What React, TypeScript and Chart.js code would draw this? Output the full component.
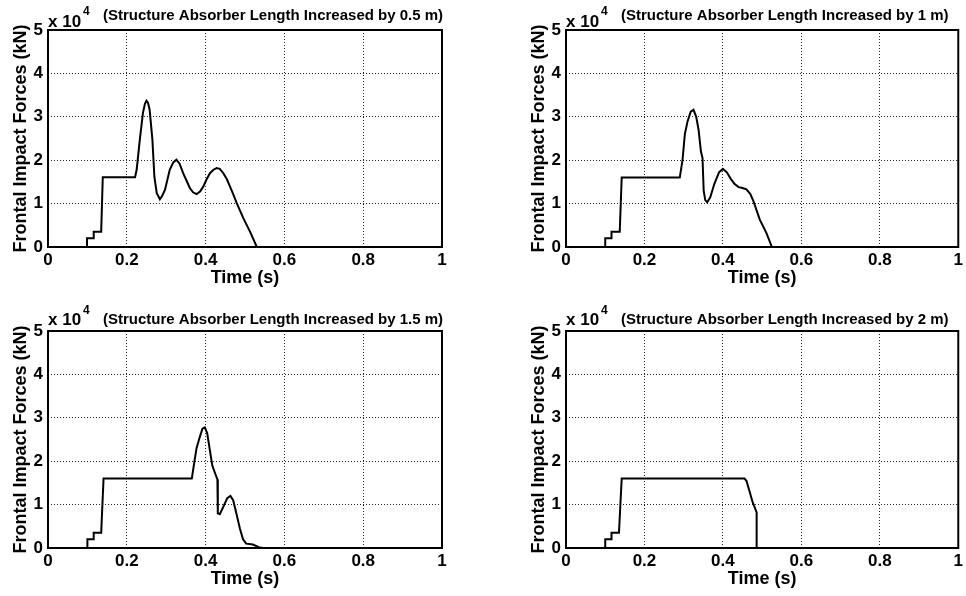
import React, { useEffect, useRef } from 'react';
import { Chart, registerables } from 'chart.js';

Chart.register(...registerables);

// ---- Data (time in s, force in kN) ----
const TIME_05 = [0, 0.099, 0.099, 0.116, 0.116, 0.135, 0.139, 0.221, 0.225, 0.233, 0.241, 0.246, 0.25, 0.254, 0.258, 0.265, 0.27, 0.276, 0.284, 0.29, 0.297, 0.309, 0.318, 0.326, 0.334, 0.343, 0.352, 0.36, 0.368, 0.377, 0.386, 0.394, 0.402, 0.411, 0.42, 0.428, 0.436, 0.445, 0.454, 0.462, 0.47, 0.479, 0.496, 0.513, 0.53];
const FORCE_05 = [0, 0, 2000, 2000, 3500, 3500, 16100, 16100, 17800, 24700, 30900, 33000, 33700, 33200, 31600, 24700, 16200, 12400, 11000, 11800, 13200, 17800, 19500, 20100, 19200, 17000, 15200, 13600, 12600, 12200, 12800, 13900, 15500, 17000, 17800, 18200, 18000, 17000, 15600, 13900, 12200, 10100, 6600, 3500, 0];

const TIME_10 = [0, 0.1, 0.1, 0.116, 0.116, 0.137, 0.142, 0.29, 0.297, 0.303, 0.31, 0.318, 0.325, 0.332, 0.338, 0.344, 0.348, 0.351, 0.355, 0.36, 0.368, 0.378, 0.39, 0.4, 0.41, 0.42, 0.43, 0.44, 0.45, 0.46, 0.47, 0.478, 0.494, 0.511, 0.525];
const FORCE_10 = [0, 0, 2000, 2000, 3500, 3500, 16000, 16000, 20000, 26000, 29000, 31200, 31600, 30000, 27000, 22000, 20500, 13000, 10800, 10300, 11500, 14500, 17200, 18000, 17200, 15700, 14500, 13800, 13600, 13300, 12200, 10500, 6300, 3200, 0];

const TIME_15 = [0, 0.1, 0.1, 0.116, 0.116, 0.135, 0.141, 0.365, 0.37, 0.377, 0.385, 0.392, 0.398, 0.404, 0.41, 0.417, 0.425, 0.43, 0.431, 0.436, 0.445, 0.455, 0.463, 0.47, 0.478, 0.487, 0.495, 0.503, 0.52, 0.535, 0.545];
const FORCE_15 = [0, 0, 2000, 2000, 3500, 3500, 16000, 16000, 19000, 23000, 25500, 27500, 27800, 26500, 23000, 19000, 17000, 15800, 8000, 7800, 9500, 11500, 12000, 11000, 8000, 4500, 2000, 1000, 800, 200, 0];

const TIME_20 = [0, 0.1, 0.1, 0.116, 0.116, 0.135, 0.142, 0.455, 0.46, 0.468, 0.476, 0.486, 0.486];
const FORCE_20 = [0, 0, 2000, 2000, 3500, 3500, 16000, 16000, 15500, 13000, 10500, 8200, 0];

const TITLES = [
  '(Structure Absorber Length Increased by 0.5 m)',
  '(Structure Absorber Length Increased by 1 m)',
  '(Structure Absorber Length Increased by 1.5 m)',
  '(Structure Absorber Length Increased by 2 m)',
];
const X_LABEL = 'Time (s)';
const Y_LABEL = 'Frontal Impact Forces (kN)';
const X_MIN = 0;
const X_MAX = 1;
const X_STEP = 0.2;
const Y_MIN = 0;
const Y_MAX = 50000;
const Y_STEP = 10000;
const Y_EXPONENT = '4';

const FONT = '"Liberation Sans", Arial, Helvetica, sans-serif';

type Panel = {
  left: number; top: number; time: number[]; force: number[]; title: string;
  plotLeft: number; padRight: number; padTop: number; xH: number;
  yTitlePad: number; xTitlePad: number; titleY: number; expY: number;
};

const PANELS: Panel[] = [
  { left: 0, top: 0, time: TIME_05, force: FORCE_05, title: TITLES[0], plotLeft: 48, padRight: 41, padTop: 30, xH: 51, yTitlePad: 10, xTitlePad: 9, titleY: 16, expY: 22 },
  { left: 483, top: 0, time: TIME_10, force: FORCE_10, title: TITLES[1], plotLeft: 83, padRight: 7, padTop: 30, xH: 51, yTitlePad: 45, xTitlePad: 9, titleY: 16, expY: 22 },
  { left: 0, top: 298, time: TIME_15, force: FORCE_15, title: TITLES[2], plotLeft: 48, padRight: 41, padTop: 33, xH: 48, yTitlePad: 10, xTitlePad: 6, titleY: 21.5, expY: 22.5 },
  { left: 483, top: 298, time: TIME_20, force: FORCE_20, title: TITLES[3], plotLeft: 83, padRight: 7, padTop: 33, xH: 48, yTitlePad: 45, xTitlePad: 6, titleY: 21.5, expY: 22.5 },
];

function Subplot({ p }: { p: Panel }) {
  const ref = useRef<HTMLCanvasElement | null>(null);
  useEffect(() => {
    if (!ref.current) return;
    const annot = {
      id: 'annot',
      afterDraw(chart: any) {
        const { ctx, chartArea } = chart;
        ctx.save();
        ctx.strokeStyle = '#000';
        ctx.lineWidth = 2;
        ctx.strokeRect(chartArea.left, chartArea.top, chartArea.right - chartArea.left, chartArea.bottom - chartArea.top);
        ctx.fillStyle = '#000';
        ctx.textBaseline = 'middle';
        ctx.textAlign = 'left';
        ctx.font = `bold 15px ${FONT}`;
        ctx.fillText(p.title, chartArea.left + 55, p.titleY);
        ctx.font = `bold 17px ${FONT}`;
        ctx.fillText('x 10', chartArea.left, p.expY);
        const w = ctx.measureText('x 10').width;
        ctx.font = `bold 12px ${FONT}`;
        ctx.fillText(Y_EXPONENT, chartArea.left + w + 2, p.expY - 10);
        ctx.restore();
      },
    };
    const chart = new Chart(ref.current, {
      type: 'line',
      data: {
        datasets: [{
          data: p.time.map((t, i) => ({ x: t, y: p.force[i] })),
          borderColor: '#000',
          borderWidth: 2,
          pointRadius: 0,
          fill: false,
          tension: 0,
        }],
      },
      options: {
        animation: false,
        responsive: false,
        events: [],
        layout: { padding: { left: 0, right: p.padRight, top: p.padTop, bottom: 0 } },
        plugins: { legend: { display: false }, tooltip: { enabled: false }, title: { display: false } },
        scales: {
          x: {
            type: 'linear', min: X_MIN, max: X_MAX,
            afterFit: (s: any) => { s.height = p.xH; },
            ticks: {
              stepSize: X_STEP, color: '#000', padding: 3,
              font: { family: FONT, size: 17, weight: 'bold' },
              callback: (v: any) => String(+Number(v).toFixed(1)),
            },
            grid: { color: '#222', lineWidth: 1, drawTicks: false },
            border: { display: false, dash: [1, 2] },
            title: { display: true, text: X_LABEL, color: '#000', font: { family: FONT, size: 18, weight: 'bold' }, padding: { top: 0, bottom: p.xTitlePad } },
          },
          y: {
            type: 'linear', min: Y_MIN, max: Y_MAX,
            afterFit: (s: any) => { s.width = p.plotLeft; },
            ticks: {
              stepSize: Y_STEP, color: '#000', padding: 5,
              font: { family: FONT, size: 17, weight: 'bold' },
              callback: (v: any) => String(Number(v) / 10000),
            },
            grid: { color: '#222', lineWidth: 1, drawTicks: false },
            border: { display: false, dash: [1, 2] },
            title: { display: true, text: Y_LABEL, color: '#000', font: { family: FONT, size: 18, weight: 'bold' }, padding: { top: p.yTitlePad, bottom: 0 } },
          },
        },
      },
      plugins: [annot],
    } as any);
    return () => chart.destroy();
  }, [p]);
  return (
    <canvas
      ref={ref}
      width={483}
      height={298}
      style={{ position: 'absolute', left: p.left, top: p.top, width: 483, height: 298, display: 'block' }}
    />
  );
}

export default function App() {
  return (
    <div style={{ position: 'absolute', left: 0, top: 0, width: 966, height: 596, background: '#fff' }}>
      {PANELS.map((p, i) => <Subplot key={i} p={p} />)}
    </div>
  );
}
